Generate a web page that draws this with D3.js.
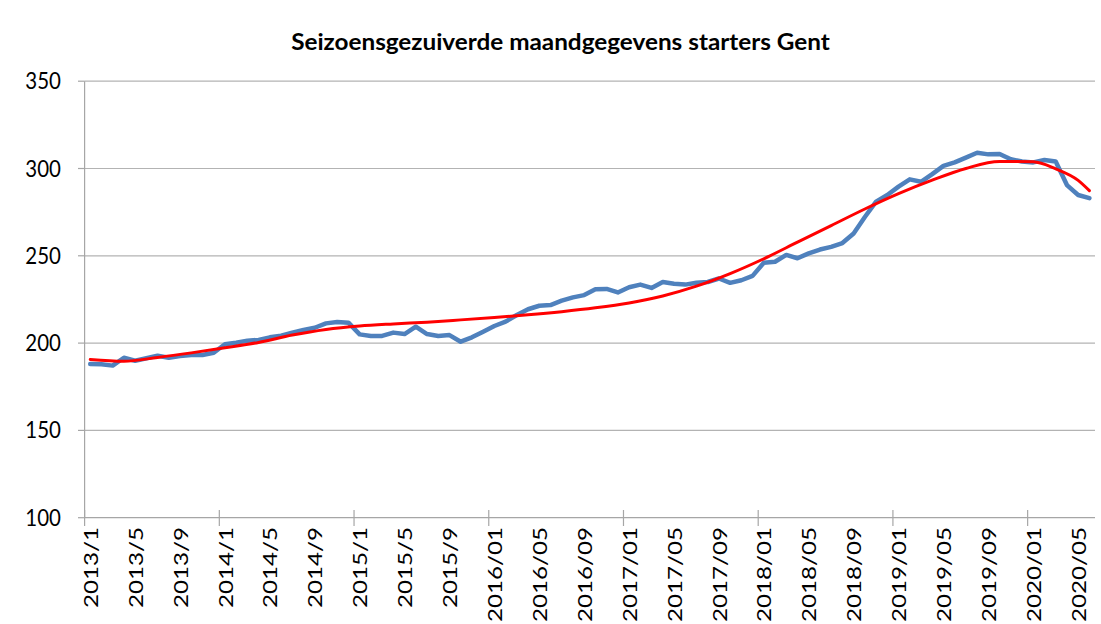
<!DOCTYPE html>
<html>
<head>
<meta charset="utf-8">
<script src="https://cdn.jsdelivr.net/npm/d3@7/dist/d3.min.js"></script>
<style>
  html, body { margin: 0; padding: 0; background: #fff; }
  svg { display: block; }
</style>
</head>
<body>
<svg id="chart" width="1101" height="624"></svg>
<script>
const title = "Seizoensgezuiverde maandgegevens starters Gent";

const categories = [
  "2013/1","2013/2","2013/3","2013/4","2013/5","2013/6","2013/7","2013/8","2013/9","2013/10","2013/11","2013/12",
  "2014/1","2014/2","2014/3","2014/4","2014/5","2014/6","2014/7","2014/8","2014/9","2014/10","2014/11","2014/12",
  "2015/1","2015/2","2015/3","2015/4","2015/5","2015/6","2015/7","2015/8","2015/9","2015/10","2015/11","2015/12",
  "2016/01","2016/02","2016/03","2016/04","2016/05","2016/06","2016/07","2016/08","2016/09","2016/10","2016/11","2016/12",
  "2017/01","2017/02","2017/03","2017/04","2017/05","2017/06","2017/07","2017/08","2017/09","2017/10","2017/11","2017/12",
  "2018/01","2018/02","2018/03","2018/04","2018/05","2018/06","2018/07","2018/08","2018/09","2018/10","2018/11","2018/12",
  "2019/01","2019/02","2019/03","2019/04","2019/05","2019/06","2019/07","2019/08","2019/09","2019/10","2019/11","2019/12",
  "2020/01","2020/02","2020/03","2020/04","2020/05","2020/06"
];

const starters = [
  188.0, 187.9, 187.1, 191.6, 189.9, 191.3, 192.8, 191.6, 192.6, 193.2, 193.2, 194.5,
  199.3, 200.2, 201.4, 201.8, 203.3, 204.2, 206.0, 207.5, 208.8, 211.3, 212.1, 211.7,
  205.0, 204.1, 204.1, 206.0, 205.2, 209.4, 205.2, 204.1, 204.6, 200.8, 203.3, 206.5,
  209.8, 212.3, 216.1, 219.4, 221.4, 221.8, 224.3, 226.2, 227.5, 230.8, 231.0, 229.0,
  232.0, 233.5, 231.6, 235.0, 234.0, 233.5, 234.6, 235.0, 237.0, 234.5, 236.0, 238.5,
  246.0, 246.6, 250.5, 248.6, 251.4, 253.6, 255.1, 257.3, 262.8, 272.2, 281.0, 284.8,
  289.6, 293.8, 292.4, 296.8, 301.5, 303.5, 306.2, 309.0, 308.1, 308.3, 305.3, 304.0,
  303.5, 304.9, 304.0, 290.5, 284.8, 283.0
];

const trendCategories = [
  "2013/1","2013/4","2013/7","2013/10","2014/1","2014/4","2014/7","2014/10",
  "2015/1","2015/4","2015/7","2015/10","2016/01","2016/04","2016/07","2016/10",
  "2017/01","2017/04","2017/07","2017/10","2018/01","2018/04","2018/07","2018/10",
  "2019/01","2019/04","2019/07","2019/10","2020/01","2020/03","2020/05","2020/06"
];
const trendValues = [
  190.6, 189.6, 191.8, 194.4, 197.3, 200.4, 204.6, 207.8,
  209.8, 211.0, 212.0, 213.3, 214.7, 216.2, 218.0, 220.2,
  223.0, 227.0, 232.6, 239.8, 248.3, 257.8, 267.3, 276.8,
  285.6, 293.3, 300.0, 304.0, 303.8, 299.8, 293.2, 287.3
];

const yTicks = [100, 150, 200, 250, 300, 350];
const xTickLabels = [
  "2013/1","2013/5","2013/9","2014/1","2014/5","2014/9","2015/1","2015/5","2015/9",
  "2016/01","2016/05","2016/09","2017/01","2017/05","2017/09","2018/01","2018/05","2018/09",
  "2019/01","2019/05","2019/09","2020/01","2020/05"
];
const yearStarts = ["2013/1","2014/1","2015/1","2016/01","2017/01","2018/01","2019/01","2020/01"];

const FONT = "Lato, 'Open Sans', 'DejaVu Sans', sans-serif";
const svg = d3.select("#chart");

const x = d3.scaleBand().domain(categories).range([84.6, 1095]).padding(0);
const cx = d => x(d) + x.bandwidth() / 2;
const y = d3.scaleLinear().domain([100, 350]).range([517.7, 81.2]);

// gridlines
svg.append("g").selectAll("line").data(yTicks.slice(1)).join("line")
  .attr("x1", 84.6).attr("x2", 1095)
  .attr("y1", d => y(d)).attr("y2", d => y(d))
  .attr("stroke", "#b3b3b3").attr("stroke-width", 1.2);

// y axis
svg.append("line").attr("x1", 84.6).attr("x2", 84.6).attr("y1", y(350)).attr("y2", y(100))
  .attr("stroke", "#a6a6a6").attr("stroke-width", 1.2);
svg.append("g").selectAll("line").data(yTicks).join("line")
  .attr("x1", 78).attr("x2", 84.6).attr("y1", d => y(d)).attr("y2", d => y(d))
  .attr("stroke", "#a6a6a6").attr("stroke-width", 1.2);
svg.append("g").selectAll("text").data(yTicks).join("text")
  .attr("transform", d => `translate(61,${y(d)}) scale(1,1.12)`)
  .attr("text-anchor", "end").attr("dy", "0.35em")
  .attr("font-family", FONT).attr("font-size", 20.5).attr("fill", "#000")
  .text(d => d);

// x axis
svg.append("line").attr("x1", 84.6).attr("x2", 1095).attr("y1", y(100)).attr("y2", y(100))
  .attr("stroke", "#a6a6a6").attr("stroke-width", 1.2);
svg.append("g").selectAll("line").data(yearStarts).join("line")
  .attr("x1", d => x(d)).attr("x2", d => x(d)).attr("y1", 510).attr("y2", 526)
  .attr("stroke", "#a6a6a6").attr("stroke-width", 1.2);
svg.append("g").selectAll("text").data(xTickLabels).join("text")
  .attr("transform", d => `translate(${cx(d)},527) scale(1,1.21) rotate(-90)`)
  .attr("text-anchor", "end").attr("dominant-baseline", "central")
  .attr("font-family", FONT).attr("font-size", 20).attr("fill", "#000")
  .text(d => d);

// series
const line = d3.line().x(d => cx(d[0])).y(d => y(d[1]));
svg.append("path")
  .datum(categories.map((c, i) => [c, starters[i]]))
  .attr("d", line)
  .attr("fill", "none").attr("stroke", "#4f81bd").attr("stroke-width", 4.5)
  .attr("stroke-linejoin", "round").attr("stroke-linecap", "round");

const trendLine = d3.line().x(d => cx(d[0])).y(d => y(d[1])).curve(d3.curveMonotoneX);
svg.append("path")
  .datum(trendCategories.map((c, i) => [c, trendValues[i]]))
  .attr("d", trendLine)
  .attr("fill", "none").attr("stroke", "#ff0000").attr("stroke-width", 3)
  .attr("stroke-linecap", "round");

// title
const t = svg.append("text")
  .attr("text-anchor", "middle").attr("dy", "0.35em")
  .attr("font-family", FONT).attr("font-weight", "bold").attr("font-size", 20).attr("fill", "#000")
  .text(title);
const tl = t.node().getComputedTextLength();
t.attr("transform", `translate(560.5,42) scale(${539 / tl},1.1)`);
</script>
</body>
</html>
